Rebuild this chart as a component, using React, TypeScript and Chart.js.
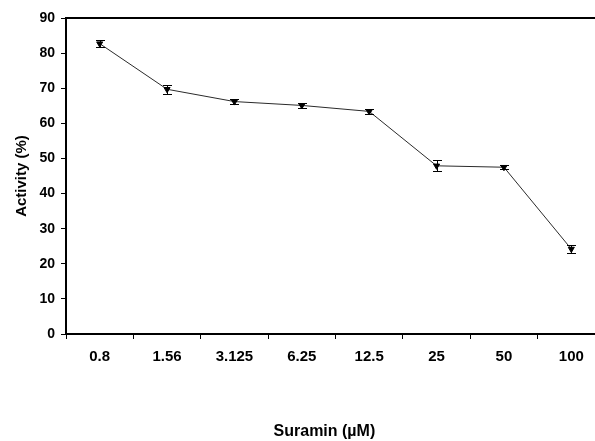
import React, { useEffect, useRef } from 'react';
import { Chart, registerables } from 'chart.js';

Chart.register(...registerables);

// ---- data ----
const categories = ['0.8', '1.56', '3.125', '6.25', '12.5', '25', '50', '100'];
const activity = [82.7, 69.7, 66.2, 65.1, 63.4, 47.9, 47.5, 24.2];
const errors = [1.0, 1.3, 0.7, 0.6, 0.6, 1.6, 0.6, 1.1];
const yMin = 0;
const yMax = 90;
const yStep = 10;
const xTitle = 'Suramin (µM)';
const yTitle = 'Activity (%)';

const FAMILY = "'Liberation Sans', Arial, sans-serif";

const errorBarPlugin = {
  id: 'errorBars',
  afterDatasetsDraw(chart: any) {
    const ctx = chart.ctx;
    const yScale = chart.scales.y;
    chart.data.datasets.forEach((ds: any, di: number) => {
      const meta = chart.getDatasetMeta(di);
      const errs: number[] = ds.errors || [];
      ctx.save();
      ctx.strokeStyle = '#000';
      ctx.lineWidth = 1;
      meta.data.forEach((pt: any, i: number) => {
        const v = ds.data[i];
        const e = errs[i] || 0;
        const x = Math.round(pt.x) + 0.5;
        const yt = Math.round(yScale.getPixelForValue(v + e)) + 0.5;
        const yb = Math.round(yScale.getPixelForValue(v - e)) + 0.5;
        const cap = 4.5;
        ctx.beginPath();
        ctx.moveTo(x, yt);
        ctx.lineTo(x, yb);
        ctx.moveTo(x - cap, yt);
        ctx.lineTo(x + cap, yt);
        ctx.moveTo(x - cap, yb);
        ctx.lineTo(x + cap, yb);
        ctx.stroke();
      });
      ctx.restore();
    });
  },
};

const topBorderPlugin = {
  id: 'topBorder',
  afterDraw(chart: any) {
    const { ctx, chartArea } = chart;
    ctx.save();
    ctx.strokeStyle = '#000';
    ctx.lineWidth = 2;
    ctx.beginPath();
    ctx.moveTo(chartArea.left - 1, chartArea.top);
    ctx.lineTo(chartArea.right, chartArea.top);
    ctx.stroke();
    ctx.restore();
  },
};

export default function App() {
  const ref = useRef<HTMLCanvasElement | null>(null);

  useEffect(() => {
    if (!ref.current) return;
    const chart = new Chart(ref.current, {
      type: 'line',
      data: {
        labels: categories,
        datasets: [
          {
            data: activity,
            errors: errors,
            borderColor: '#2a2a2a',
            borderWidth: 1,
            pointStyle: 'triangle',
            rotation: 180,
            pointRadius: 3.5,
            pointBackgroundColor: '#000',
            pointBorderColor: '#000',
            pointBorderWidth: 1,
            tension: 0,
            fill: false,
          } as any,
        ],
      },
      options: {
        responsive: false,
        animation: false,
        layout: { padding: { top: 18, right: 13, bottom: 0, left: 0 } },
        plugins: {
          legend: { display: false },
          tooltip: { enabled: false },
        },
        scales: {
          x: {
            type: 'category',
            offset: true,
            grid: {
              display: true,
              offset: true,
              drawOnChartArea: false,
              drawTicks: true,
              tickLength: 5,
              color: '#000',
              lineWidth: 1,
            },
            border: { display: true, color: '#000', width: 2 },
            ticks: {
              color: '#000',
              font: { family: FAMILY, size: 15, weight: 'bold' },
              padding: 9,
              maxRotation: 0,
              autoSkip: false,
            },
            title: {
              display: true,
              text: xTitle + '\u0020\u0020\u0020\u0020\u0020',
              color: '#000',
              font: { family: FAMILY, size: 16, weight: 'bold' },
              padding: { top: 0, bottom: 0 },
            },
            afterFit: (s: any) => {
              s.height = 107;
            },
          },
          y: {
            min: yMin,
            max: yMax,
            grid: {
              display: true,
              drawOnChartArea: false,
              drawTicks: true,
              tickLength: 5,
              color: '#000',
              lineWidth: 1,
            },
            border: { display: true, color: '#000', width: 2 },
            ticks: {
              stepSize: yStep,
              color: '#000',
              font: { family: FAMILY, size: 14, weight: 'bold' },
              padding: 6,
            },
            title: {
              display: true,
              text: yTitle,
              color: '#000',
              font: { family: FAMILY, size: 15, weight: 'bold' },
              padding: { top: 13, bottom: 0 },
            },
            afterFit: (s: any) => {
              s.width = 66;
            },
          },
        },
      } as any,
      plugins: [errorBarPlugin, topBorderPlugin],
    });
    return () => chart.destroy();
  }, []);

  return (
    <div
      style={{
        position: 'absolute',
        left: 0,
        top: 0,
        width: 595,
        height: 441,
        overflow: 'hidden',
        background: '#fff',
      }}
    >
      <canvas ref={ref} width={618} height={441} style={{ width: 618, height: 441, display: 'block' }} />
    </div>
  );
}
